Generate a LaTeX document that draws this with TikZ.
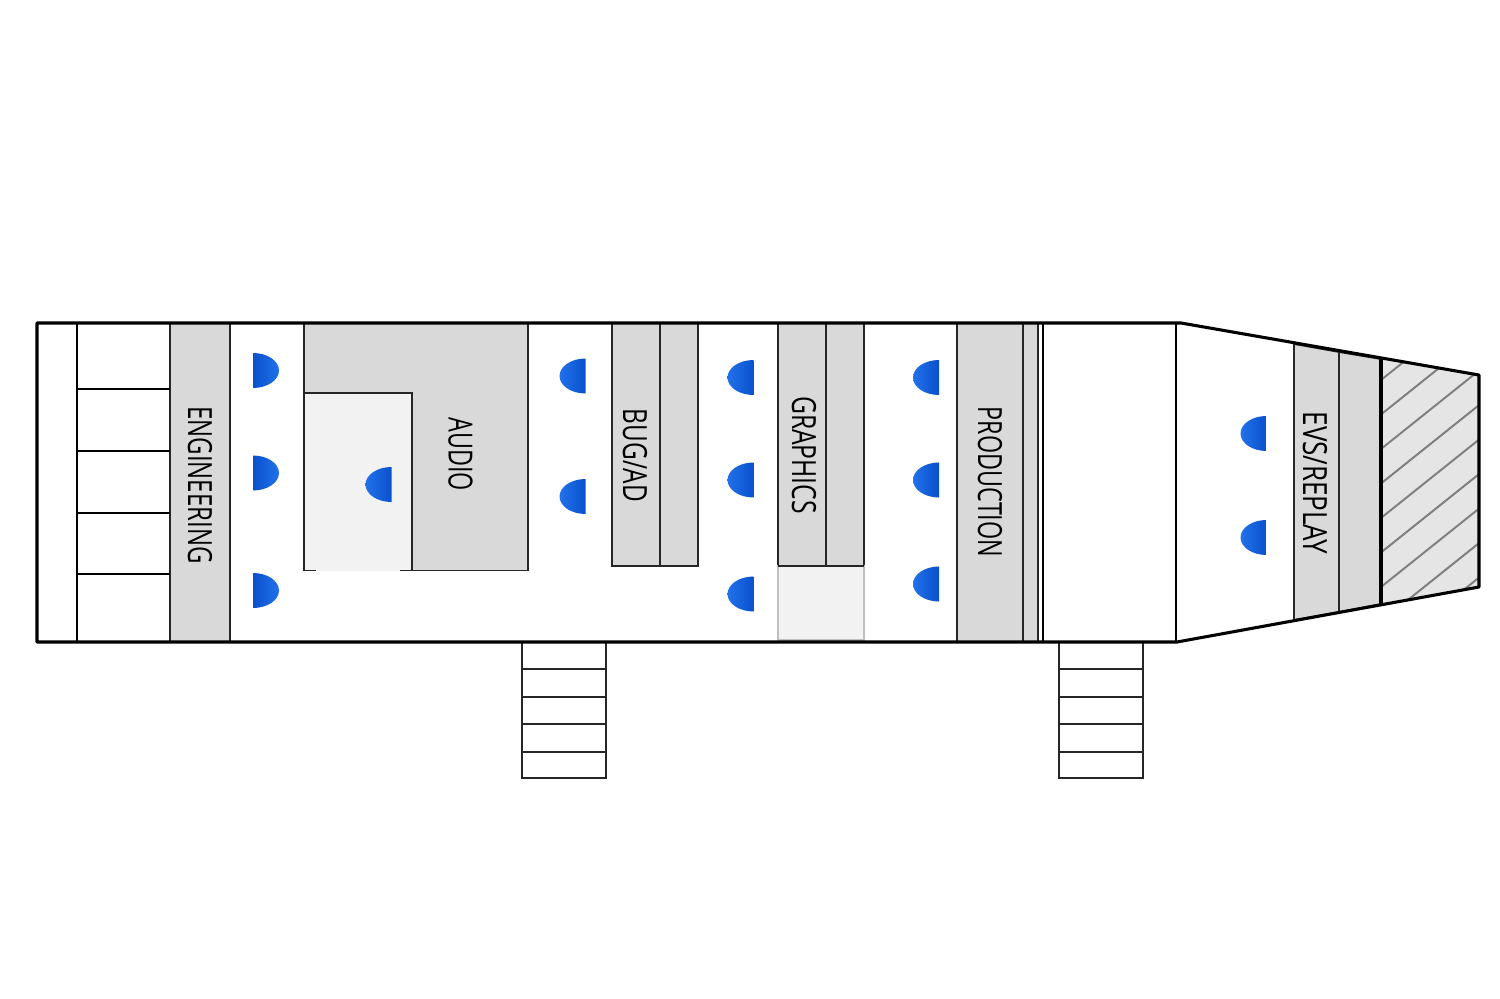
\documentclass[tikz,border=0pt]{standalone}
\usepackage{fontspec}
\setmainfont{Open Sans}
\usepackage{tikz}
\pgfdeclarelayer{edgelayer}
\pgfdeclarelayer{nodelayer}
\pgfsetlayers{edgelayer,main,nodelayer}
\definecolor{desk}{HTML}{D9D9D9}
\definecolor{pale}{HTML}{F2F2F2}
\definecolor{hatchfill}{HTML}{E5E5E5}
\definecolor{seatdark}{HTML}{0A50CC}
\definecolor{seatlight}{HTML}{2272EA}
\tikzstyle{wall}=[-,draw=black,line width=2.3]
\tikzstyle{thin}=[-,draw=black!85,line width=1.3]
\tikzstyle{rack}=[-,draw=black,line width=1.8]
\tikzstyle{deskbox}=[fill=desk,draw=black!85,line width=1.3]
\tikzstyle{hatch}=[-,draw=black!50,line width=1.5]
\tikzstyle{roomlabel}=[inner sep=0pt,rotate=-90,font=\fontsize{25}{30}\selectfont,text=black]
\tikzset{
	seatr/.pic={\shade [left color=seatdark,right color=seatlight] (0,-17.5) arc [start angle=-90,end angle=90,x radius=26,y radius=17.5] -- cycle;},
	seatl/.pic={\shade [left color=seatlight,right color=seatdark] (0,-17.5) arc [start angle=270,end angle=90,x radius=26,y radius=17.5] -- cycle;}
}
\begin{document}
\begin{tikzpicture}[x=.75pt,y=-.75pt]
	\useasboundingbox (0,0) rectangle (1500,999);
	\begin{pgfonlayer}{edgelayer}
		% desks
		\draw [style=deskbox] (170,323) rectangle (230,642);
		\draw [style=deskbox] (304,323) rectangle (528,570.5);
		\fill [pale] (304,393) rectangle (412,570.5);
		\draw [style=thin] (316,570.5) -- (304,570.5) -- (304,393) -- (412,393) -- (412,570.5) -- (400,570.5);
		\draw [style=deskbox] (612,323) rectangle (660,566);
		\draw [style=deskbox] (660,323) rectangle (698,566);
		\draw [style=deskbox] (778,323) rectangle (826,566);
		\draw [style=deskbox] (826,323) rectangle (864,566);
		\draw [fill=pale,draw=black!25,line width=1.1] (778,566) rectangle (864,640);
		\draw [style=thin] (778,566) -- (864,566);
		\draw [style=deskbox] (957,323) rectangle (1023,642);
		\draw [style=deskbox] (1023,323) rectangle (1038,642);
		\draw [style=deskbox] (1294,344) -- (1339,352) -- (1339,612) -- (1294,620) -- cycle;
		\draw [style=deskbox] (1339,352) -- (1381,359) -- (1381,604) -- (1339,612) -- cycle;
		% hatched end
		\fill [hatchfill] (1381,359) -- (1479,375) -- (1479,587) -- (1381,604) -- cycle;
		\begin{scope}
			\clip (1381,359) -- (1479,375) -- (1479,587) -- (1381,604) -- cycle;
			\foreach \k in {0,...,8}
				\draw [style=hatch] (1381,380+34.5*\k) -- (1481,300+34.5*\k);
		\end{scope}
		% stairs
		\draw [style=thin] (522,642) rectangle (606,778);
		\draw [style=thin] (522,669) -- (606,669);
		\draw [style=thin] (522,697) -- (606,697);
		\draw [style=thin] (522,724) -- (606,724);
		\draw [style=thin] (522,752) -- (606,752);
		\draw [style=thin] (1059,642) rectangle (1143,778);
		\draw [style=thin] (1059,669) -- (1143,669);
		\draw [style=thin] (1059,697) -- (1143,697);
		\draw [style=thin] (1059,724) -- (1143,724);
		\draw [style=thin] (1059,752) -- (1143,752);
		% racks
		\draw [style=rack] (77,323) -- (77,642);
		\draw [style=rack] (77,389) -- (170,389);
		\draw [style=rack] (77,451) -- (170,451);
		\draw [style=rack] (77,513) -- (170,513);
		\draw [style=rack] (77,574) -- (170,574);
		% shell
		\draw [style=rack,line width=2.2] (1043,323) -- (1043,642);
		\draw [style=rack] (1176,323) -- (1176,642);
		\draw [style=wall,line width=3] (1381,359) -- (1381,604);
		\draw [style=wall,line join=round] (37,323) -- (1181,323) -- (1479,375) -- (1479,587) -- (1177,642) -- (37,642) -- cycle;
	\end{pgfonlayer}
	\begin{pgfonlayer}{nodelayer}
		\pic at (253,370.5) {seatr};
		\pic at (253,473) {seatr};
		\pic at (253,590.5) {seatr};
		\pic at (391.5,484.5) {seatl};
		\pic at (585.5,376) {seatl};
		\pic at (585.5,496.5) {seatl};
		\pic at (753.5,377.5) {seatl};
		\pic at (753.5,480) {seatl};
		\pic at (753.5,594) {seatl};
		\pic at (939,377.5) {seatl};
		\pic at (939,480) {seatl};
		\pic at (939,584) {seatl};
		\pic at (1266.5,433.5) {seatl};
		\pic at (1266.5,537.5) {seatl};
		\node [style=roomlabel,xscale=.72] (engineering) at (200,485) {ENGINEERING};
		\node [style=roomlabel,xscale=.70] (audio) at (460.5,454) {AUDIO};
		\node [style=roomlabel,xscale=.73] (bugad) at (635,455.5) {BUG/AD};
		\node [style=roomlabel,xscale=.74] (graphics) at (804,455) {GRAPHICS};
		\node [style=roomlabel,xscale=.70] (production) at (990,482) {PRODUCTION};
		\node [style=roomlabel,xscale=.78] (evsreplay) at (1315,483) {EVS/REPLAY};
	\end{pgfonlayer}
\end{tikzpicture}
\end{document}
